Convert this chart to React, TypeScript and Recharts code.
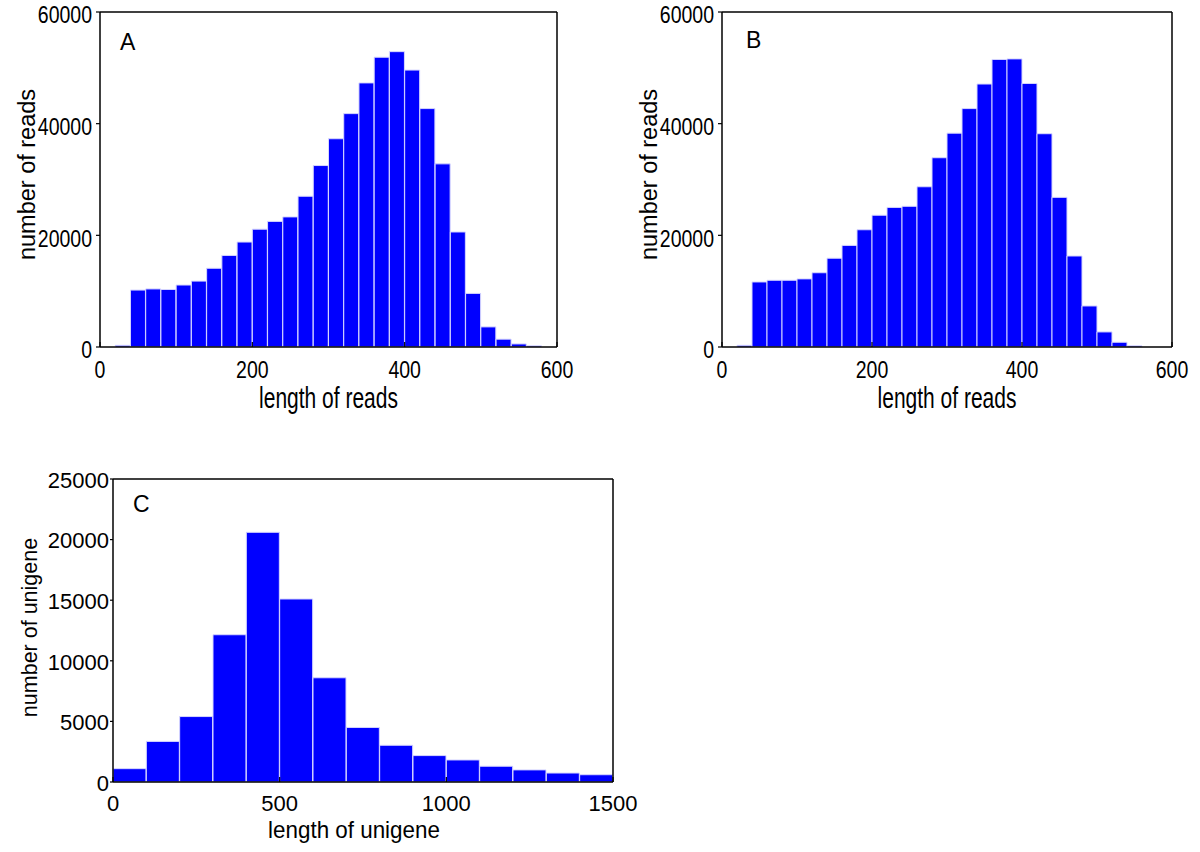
import { Bar, ComposedChart, Label, Line, XAxis, YAxis } from 'recharts';

// histogram bins (bin width 20 for read length, 100 for unigene length)
const readBins = [
  '0-20', '20-40', '40-60', '60-80', '80-100', '100-120', '120-140', '140-160', '160-180', '180-200',
  '200-220', '220-240', '240-260', '260-280', '280-300', '300-320', '320-340', '340-360', '360-380', '380-400',
  '400-420', '420-440', '440-460', '460-480', '480-500', '500-520', '520-540', '540-560', '560-580', '580-600',
];
const readBinMids = [
  10, 30, 50, 70, 90, 110, 130, 150, 170, 190,
  210, 230, 250, 270, 290, 310, 330, 350, 370, 390,
  410, 430, 450, 470, 490, 510, 530, 550, 570, 590,
];
const readsA = [
  0, 300, 10200, 10400, 10300, 11100, 11800, 14100, 16400, 18800,
  21100, 22500, 23300, 27000, 32500, 37300, 41800, 47300, 51900, 52900,
  49600, 42700, 32800, 20600, 9600, 3600, 1400, 550, 200, 0,
];
const readsB = [
  0, 300, 11650, 11950, 11950, 12200, 13300, 15900, 18200, 21000,
  23600, 25000, 25200, 28700, 33900, 38300, 42700, 47100, 51500, 51600,
  47200, 38200, 26800, 16300, 7350, 2700, 850, 200, 0, 0,
];
const readTicksX = [0, 200, 400, 600];
const readTicksY = [0, 20000, 40000, 60000];

const unigeneBins = [
  '0-100', '100-200', '200-300', '300-400', '400-500', '500-600', '600-700', '700-800',
  '800-900', '900-1000', '1000-1100', '1100-1200', '1200-1300', '1300-1400', '1400-1500',
];
const unigeneBinMids = [50, 150, 250, 350, 450, 550, 650, 750, 850, 950, 1050, 1150, 1250, 1350, 1450];
const unigeneCounts = [1100, 3350, 5400, 12150, 20600, 15100, 8600, 4500, 3030, 2180, 1820, 1300, 1000, 740, 600];
const unigeneTicksX = [0, 500, 1000, 1500];
const unigeneTicksY = [0, 5000, 10000, 15000, 20000, 25000];

const FONT = '"Liberation Sans", Arial, Helvetica, sans-serif';
const BLUE = '#0000FF';

type TextStyle = { size: number; sy: number };

function makeTick(side: 'bottom' | 'left', st: TextStyle, shiftY = 0) {
  return (props: any) => {
    const { x, y, payload } = props;
    const cap = st.size * 0.716 * st.sy;
    const by = side === 'bottom' ? y + cap : y + cap / 2 + shiftY;
    return (
      <text
        transform={`translate(${x},${by}) scale(1,${st.sy})`}
        textAnchor={side === 'bottom' ? 'middle' : 'end'}
        fontFamily={FONT}
        fontSize={st.size}
        fill="#000"
      >
        {payload.value}
      </text>
    );
  };
}

function xTitle(text: string, st: TextStyle, dy: number, dx = 0) {
  return (props: any) => {
    const vb = props.viewBox;
    return (
      <text
        transform={`translate(${vb.x + vb.width / 2 + dx},${vb.y + dy}) scale(1,${st.sy})`}
        textAnchor="middle"
        fontFamily={FONT}
        fontSize={st.size}
        fill="#000"
      >
        {text}
      </text>
    );
  };
}

function yTitle(text: string, size: number, dx: number, dy: number) {
  return (props: any) => {
    const vb = props.viewBox;
    return (
      <text
        transform={`translate(${vb.x + dx},${vb.y + vb.height / 2 + dy}) rotate(-90)`}
        textAnchor="middle"
        fontFamily={FONT}
        fontSize={size}
        fill="#000"
      >
        {text}
      </text>
    );
  };
}

type PanelProps = {
  letter: string;
  letterPos: [number, number];
  bins: string[];
  mids: number[];
  counts: number[];
  xMax: number;
  yMax: number;
  ticksX: number[];
  ticksY: number[];
  width: number;
  height: number;
  margin: { top: number; right: number; bottom: number; left: number };
  tickStyle: TextStyle;
  tickMarginX: number;
  tickMarginY: number;
  tickShiftY: number;
  leftTickSize: number;
  xLabel: string;
  xLabelStyle: TextStyle;
  xLabelDy: number;
  xLabelDx: number;
  yLabel: string;
  yLabelSize: number;
  yLabelDx: number;
  yLabelDy: number;
  letterSize: number;
};

function HistPanel(p: PanelProps) {
  const data = p.bins.map((bin, i) => ({ bin, mid: p.mids[i], count: p.counts[i] }));
  const frame = { stroke: '#000', strokeWidth: 1.5 };
  const tickLine = { stroke: '#000', strokeWidth: 1.2 };
  return (
    <ComposedChart width={p.width} height={p.height} data={data} margin={p.margin} barCategoryGap={0} barGap={0}>
      <XAxis xAxisId="bins" dataKey="bin" type="category" hide height={0} />
      <XAxis
        xAxisId="num"
        dataKey="mid"
        type="number"
        domain={[0, p.xMax]}
        ticks={p.ticksX}
        allowDataOverflow
        height={45}
        axisLine={frame}
        tickLine={tickLine}
        tickSize={-5}
        tickMargin={p.tickMarginX}
        tick={makeTick('bottom', p.tickStyle)}
        interval={0}
      >
        <Label content={xTitle(p.xLabel, p.xLabelStyle, p.xLabelDy, p.xLabelDx)} />
      </XAxis>
      <XAxis
        xAxisId="top"
        dataKey="mid"
        orientation="top"
        type="number"
        domain={[0, p.xMax]}
        ticks={p.ticksX}
        allowDataOverflow
        height={1}
        axisLine={frame}
        tickLine={tickLine}
        tickSize={-5}
        tick={false}
        interval={0}
      />
      <YAxis
        yAxisId="left"
        type="number"
        domain={[0, p.yMax]}
        ticks={p.ticksY}
        allowDataOverflow
        width={90}
        axisLine={frame}
        tickLine={tickLine}
        tickSize={p.leftTickSize}
        tickMargin={p.tickMarginY}
        tick={makeTick('left', p.tickStyle, p.tickShiftY)}
        interval={0}
      >
        <Label content={yTitle(p.yLabel, p.yLabelSize, p.yLabelDx, p.yLabelDy)} />
      </YAxis>
      <YAxis
        yAxisId="right"
        orientation="right"
        type="number"
        domain={[0, p.yMax]}
        ticks={p.ticksY}
        allowDataOverflow
        width={1}
        axisLine={frame}
        tickLine={tickLine}
        tickSize={-5}
        tick={false}
        interval={0}
      />
      <Bar
        xAxisId="bins"
        yAxisId="left"
        dataKey="count"
        fill={BLUE}
        stroke="#d6d6ff"
        strokeWidth={1}
        isAnimationActive={false}
      />
      {/* invisible series that tie the frame axes to the data */}
      <Line xAxisId="num" yAxisId="right" dataKey="count" stroke="none" dot={false} activeDot={false} isAnimationActive={false} />
      <Line xAxisId="top" yAxisId="left" dataKey="count" stroke="none" dot={false} activeDot={false} isAnimationActive={false} />
      <text x={p.letterPos[0]} y={p.letterPos[1]} fontFamily={FONT} fontSize={p.letterSize} fill="#000">
        {p.letter}
      </text>
    </ComposedChart>
  );
}

const readTick: TextStyle = { size: 19.5, sy: 1.25 };
const readTitle: TextStyle = { size: 21, sy: 1.4 };
const uniTick: TextStyle = { size: 22, sy: 1 };
const uniTitle: TextStyle = { size: 22.4, sy: 1.1 };

export default function App() {
  return (
    <div style={{ position: 'absolute', left: 0, top: 0, width: 1200, height: 852, background: '#fff' }}>
      <div style={{ position: 'absolute', left: 0, top: 0 }}>
        <HistPanel
          letter="A"
          letterPos={[120, 50]}
          bins={readBins}
          mids={readBinMids}
          counts={readsA}
          xMax={600}
          yMax={60000}
          ticksX={readTicksX}
          ticksY={readTicksY}
          width={590}
          height={440}
          margin={{ top: 11, right: 32, bottom: 48, left: 10 }}
          tickStyle={readTick}
          tickMarginX={19}
          tickMarginY={4}
          tickShiftY={2.5}
          leftTickSize={4}
          xLabel="length of reads"
          xLabelStyle={readTitle}
          xLabelDy={61}
          xLabelDx={0}
          yLabel="number of reads"
          yLabelSize={23.5}
          yLabelDx={25}
          yLabelDy={-5}
          letterSize={23}
        />
      </div>
      <div style={{ position: 'absolute', left: 622, top: 0 }}>
        <HistPanel
          letter="B"
          letterPos={[124, 48]}
          bins={readBins}
          mids={readBinMids}
          counts={readsB}
          xMax={600}
          yMax={60000}
          ticksX={readTicksX}
          ticksY={readTicksY}
          width={578}
          height={440}
          margin={{ top: 11, right: 27, bottom: 48, left: 10 }}
          tickStyle={readTick}
          tickMarginX={19}
          tickMarginY={4}
          tickShiftY={2.5}
          leftTickSize={4}
          xLabel="length of reads"
          xLabelStyle={readTitle}
          xLabelDy={61}
          xLabelDx={0}
          yLabel="number of reads"
          yLabelSize={23.5}
          yLabelDx={25}
          yLabelDy={-5}
          letterSize={23}
        />
      </div>
      <div style={{ position: 'absolute', left: 0, top: 440 }}>
        <HistPanel
          letter="C"
          letterPos={[133, 72]}
          bins={unigeneBins}
          mids={unigeneBinMids}
          counts={unigeneCounts}
          xMax={1500}
          yMax={25000}
          ticksX={unigeneTicksX}
          ticksY={unigeneTicksY}
          width={660}
          height={412}
          margin={{ top: 38, right: 46, bottom: 25, left: 23 }}
          tickStyle={uniTick}
          tickMarginX={18}
          tickMarginY={1}
          tickShiftY={1}
          leftTickSize={3}
          xLabel="length of unigene"
          xLabelStyle={uniTitle}
          xLabelDy={56}
          xLabelDx={-9}
          yLabel="number of unigene"
          yLabelSize={21.5}
          yLabelDx={14}
          yLabelDy={-3}
          letterSize={23}
        />
      </div>
    </div>
  );
}
